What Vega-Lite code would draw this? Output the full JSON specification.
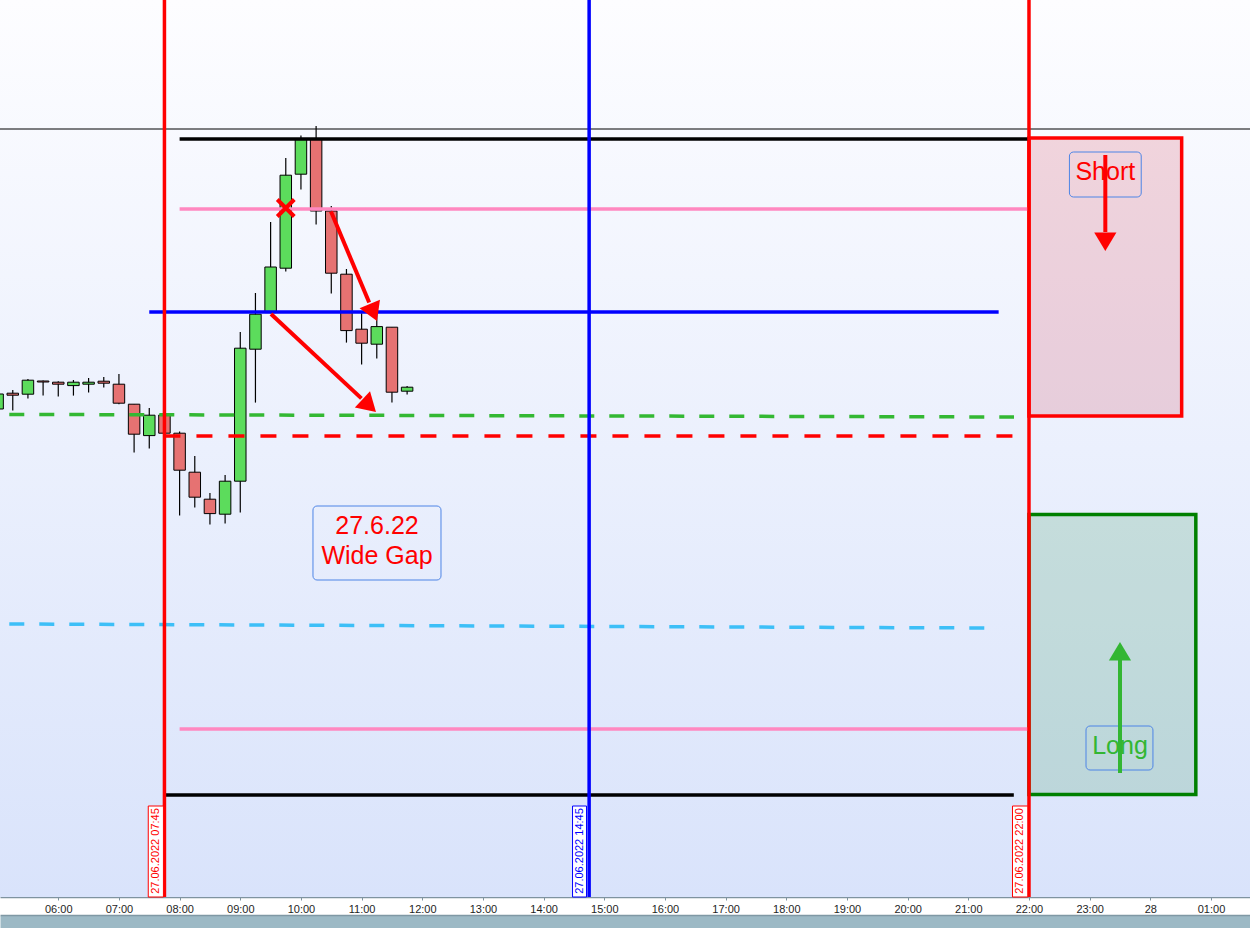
{
  "$schema": "https://vega.github.io/schema/vega-lite/v6.json",
  "width": 1250,
  "height": 897,
  "autosize": {"type": "none"},
  "padding": {"left": 0, "top": 0, "right": 0, "bottom": 31},
  "background": "#ffffff",
  "config": {"view": {"stroke": null, "fill": "#e9eefd"}, "font": "Liberation Sans"},
  "layer": [
    {
      "data": {"values": [{"h0": 4.9, "h1": 25.8, "p0": 13469.5, "p1": 13021}]},
      "mark": {
        "type": "rect", "strokeWidth": 0,
        "fill": {
          "gradient": "linear", "x1": 0, "y1": 0, "x2": 0, "y2": 1,
          "stops": [{"offset": 0, "color": "#fdfdff"}, {"offset": 1, "color": "#d9e3fb"}]
        }
      },
      "encoding": {
        "x": {
          "field": "h0", "type": "quantitative",
          "scale": {"domain": [5.0396, 25.643], "zero": false, "nice": false, "padding": 0},
          "axis": {
            "orient": "bottom", "title": null, "grid": false,
            "values": [5, 6, 7, 8, 9, 10, 11, 12, 13, 14, 15, 16, 17, 18, 19, 20, 21, 22, 23, 24, 25],
            "labelExpr": "datum.value == 24 ? '28' : (datum.value > 24 ? '0' + (datum.value - 24) + ':00' : (datum.value < 10 ? '0' : '') + datum.value + ':00')",
            "labelFlush": false, "labelOverlap": false,
            "labelFont": "Liberation Sans", "labelFontSize": 11, "labelColor": "#1e1e1e", "labelPadding": 3,
            "domainColor": "#7f93a0", "domainWidth": 1.5,
            "tickColor": "#7f93a0", "tickSize": 3, "tickWidth": 1
          }
        },
        "x2": {"field": "h1"},
        "y": {
          "field": "p0", "type": "quantitative",
          "scale": {"domain": [13021, 13469.5], "zero": false, "nice": false, "padding": 0},
          "axis": null
        },
        "y2": {"field": "p1"}
      }
    },
    {
      "data": {"values": [
        {"h": 5.0, "open": 13265, "high": 13274.5, "low": 13263.5, "close": 13272.5},
        {"h": 5.25, "open": 13272.9, "high": 13274.5, "low": 13264.2, "close": 13271.9},
        {"h": 5.5, "open": 13272.4, "high": 13280, "low": 13270.2, "close": 13279.4},
        {"h": 5.75, "open": 13279, "high": 13279.2, "low": 13271.7, "close": 13278.5},
        {"h": 6.0, "open": 13278.4, "high": 13278.9, "low": 13271.2, "close": 13277.4},
        {"h": 6.25, "open": 13276.7, "high": 13279.5, "low": 13271.7, "close": 13278.4},
        {"h": 6.5, "open": 13277.4, "high": 13280.5, "low": 13273.2, "close": 13278.4},
        {"h": 6.75, "open": 13278.9, "high": 13281, "low": 13275.7, "close": 13277.9},
        {"h": 7.0, "open": 13277.4, "high": 13282.5, "low": 13267.4, "close": 13267.9},
        {"h": 7.25, "open": 13267.4, "high": 13267.4, "low": 13243.2, "close": 13252.4},
        {"h": 7.5, "open": 13251.7, "high": 13265.5, "low": 13245.2, "close": 13261.9},
        {"h": 7.75, "open": 13262, "high": 13263.5, "low": 13251.5, "close": 13252.9},
        {"h": 8.0, "open": 13252.9, "high": 13253.7, "low": 13211.7, "close": 13234.4},
        {"h": 8.25, "open": 13233.4, "high": 13241.5, "low": 13215.7, "close": 13220.9},
        {"h": 8.5, "open": 13219.9, "high": 13223, "low": 13207.2, "close": 13212.7},
        {"h": 8.75, "open": 13212.4, "high": 13232, "low": 13207.7, "close": 13228.9},
        {"h": 9.0, "open": 13228.9, "high": 13303.5, "low": 13213.2, "close": 13295.4},
        {"h": 9.25, "open": 13294.9, "high": 13323, "low": 13268.2, "close": 13312.4},
        {"h": 9.5, "open": 13313.2, "high": 13358.5, "low": 13312.9, "close": 13336},
        {"h": 9.75, "open": 13335.4, "high": 13390.5, "low": 13333.7, "close": 13381.9},
        {"h": 10.0, "open": 13382.4, "high": 13401.7, "low": 13374.7, "close": 13399.9},
        {"h": 10.25, "open": 13399.9, "high": 13406.5, "low": 13357.2, "close": 13364},
        {"h": 10.5, "open": 13364, "high": 13366.5, "low": 13322.7, "close": 13332.9},
        {"h": 10.75, "open": 13332.4, "high": 13335, "low": 13298.2, "close": 13304.2},
        {"h": 11.0, "open": 13304.9, "high": 13312.9, "low": 13287.2, "close": 13297.9},
        {"h": 11.25, "open": 13297.4, "high": 13312.5, "low": 13290.2, "close": 13306.2},
        {"h": 11.5, "open": 13305.9, "high": 13305.9, "low": 13268.2, "close": 13273.4},
        {"h": 11.75, "open": 13273.9, "high": 13276.5, "low": 13272.2, "close": 13275.9}
      ]},
      "layer": [
        {
          "mark": {"type": "rule", "color": "#000000", "strokeWidth": 1.2},
          "encoding": {
            "x": {"field": "h", "type": "quantitative", "axis": null},
            "y": {"field": "low", "type": "quantitative", "axis": null},
            "y2": {"field": "high"}
          }
        },
        {
          "transform": [{"filter": "datum.close > datum.open"}],
          "mark": {"type": "bar", "size": 11.5, "stroke": "#000000", "strokeWidth": 1, "fill": "#5cdc5c"},
          "encoding": {
            "x": {"field": "h", "type": "quantitative", "axis": null},
            "y": {"field": "open", "type": "quantitative", "axis": null},
            "y2": {"field": "close"}
          }
        },
        {
          "transform": [{"filter": "datum.close <= datum.open"}],
          "mark": {"type": "bar", "size": 11.5, "stroke": "#000000", "strokeWidth": 1, "fill": "#e67272"},
          "encoding": {
            "x": {"field": "h", "type": "quantitative", "axis": null},
            "y": {"field": "open", "type": "quantitative", "axis": null},
            "y2": {"field": "close"}
          }
        }
      ]
    },
    {
      "data": {"values": [
        {"side": "Short", "h0": 22, "h1": 24.5167, "p0": 13400.5, "p1": 13261.5},
        {"side": "Long", "h0": 22, "h1": 24.75, "p0": 13212.2, "p1": 13072.2}
      ]},
      "mark": {"type": "rect", "strokeWidth": 3.5, "fillOpacity": 0.15},
      "encoding": {
        "x": {"field": "h0", "type": "quantitative", "axis": null},
        "x2": {"field": "h1"},
        "y": {"field": "p0", "type": "quantitative", "axis": null},
        "y2": {"field": "p1"},
        "fill": {"field": "side", "type": "nominal", "legend": null,
          "scale": {"domain": ["Short", "Long"], "range": ["#c8001c", "#008020"]}},
        "stroke": {"field": "side", "type": "nominal", "legend": null,
          "scale": {"domain": ["Short", "Long"], "range": ["#ff0000", "#008000"]}}
      }
    },
    {
      "data": {"values": [
        {"level": "range high", "h0": 8, "h1": 22, "p0": 13400, "p1": 13400},
        {"level": "upper band", "h0": 8, "h1": 22, "p0": 13365, "p1": 13365},
        {"level": "pivot", "h0": 7.5, "h1": 21.5, "p0": 13313.5, "p1": 13313.5},
        {"level": "prior close", "h0": 5.1928, "h1": 21.7533, "p0": 13262.3, "p1": 13261},
        {"level": "opening gap", "h0": 7.75, "h1": 21.75, "p0": 13251.5, "p1": 13251.5},
        {"level": "support", "h0": 5.1928, "h1": 21.275, "p0": 13157.5, "p1": 13155.5},
        {"level": "lower band", "h0": 8, "h1": 22, "p0": 13105, "p1": 13105},
        {"level": "range low", "h0": 7.75, "h1": 21.75, "p0": 13072, "p1": 13072}
      ]},
      "mark": {"type": "rule", "strokeWidth": 3.5},
      "encoding": {
        "x": {
          "field": "h0", "type": "quantitative",
          "axis": {"orient": "bottom", "offset": 25, "title": null, "grid": false, "ticks": false, "labels": false,
            "domainColor": "#9cb9c5", "domainWidth": 13}
        },
        "x2": {"field": "h1"},
        "y": {"field": "p0", "type": "quantitative", "axis": null},
        "y2": {"field": "p1"},
        "color": {"field": "level", "type": "nominal", "legend": null,
          "scale": {
            "domain": ["range high", "upper band", "pivot", "prior close", "opening gap", "support", "lower band", "range low"],
            "range": ["#000000", "#ff88c0", "#0000ff", "#33b833", "#ff0000", "#3dbff7", "#ff88c0", "#000000"]
          }},
        "strokeDash": {"field": "level", "type": "nominal", "legend": null,
          "scale": {
            "domain": ["range high", "upper band", "pivot", "prior close", "opening gap", "support", "lower band", "range low"],
            "range": [[1, 0], [1, 0], [1, 0], [15, 15], [16, 16], [15, 15], [1, 0], [1, 0]]
          }}
      }
    },
    {
      "data": {"values": [{"p": 13405}]},
      "mark": {"type": "rule", "color": "#000000", "strokeWidth": 1},
      "encoding": {"y": {"field": "p", "type": "quantitative", "axis": null}}
    },
    {
      "data": {"values": [
        {"marker": "session open", "h": 7.75},
        {"marker": "midday", "h": 14.75},
        {"marker": "session close", "h": 22}
      ]},
      "mark": {"type": "rule", "strokeWidth": 3.5},
      "encoding": {
        "x": {
          "field": "h", "type": "quantitative",
          "axis": {"orient": "bottom", "offset": 18, "title": null, "grid": false, "ticks": false, "labels": false,
            "domainColor": "#7f98a4", "domainWidth": 1.5}
        },
        "color": {"field": "marker", "type": "nominal", "legend": null,
          "scale": {"domain": ["session open", "midday", "session close"], "range": ["#ff0000", "#0000ff", "#ff0000"]}}
      }
    },
    {
      "data": {"values": [
        {"marker": "session open", "label": "27.06.2022 07:45", "h0": 7.4833, "h1": 7.7333, "hc": 7.6083, "p0": 13066.5, "p1": 13021, "pc": 13044},
        {"marker": "midday", "label": "27.06.2022 14:45", "h0": 14.4767, "h1": 14.7067, "hc": 14.5917, "p0": 13066.5, "p1": 13021, "pc": 13044},
        {"marker": "session close", "label": "27.06.2022 22:00", "h0": 21.7283, "h1": 21.98, "hc": 21.8542, "p0": 13066.5, "p1": 13021, "pc": 13044}
      ]},
      "layer": [
        {
          "mark": {"type": "rect", "fill": "#ffffff", "strokeWidth": 1},
          "encoding": {
            "x": {"field": "h0", "type": "quantitative", "axis": null},
            "x2": {"field": "h1"},
            "y": {"field": "p0", "type": "quantitative", "axis": null},
            "y2": {"field": "p1"},
            "stroke": {"field": "marker", "type": "nominal", "legend": null,
              "scale": {"domain": ["session open", "midday", "session close"], "range": ["#ff0000", "#0000ff", "#ff0000"]}}
          }
        },
        {
          "mark": {"type": "text", "angle": 270, "fontSize": 11, "font": "Liberation Sans", "align": "center", "baseline": "middle"},
          "encoding": {
            "x": {"field": "hc", "type": "quantitative", "axis": null},
            "y": {"field": "pc", "type": "quantitative", "axis": null},
            "text": {"field": "label"},
            "color": {"field": "marker", "type": "nominal", "legend": null,
              "scale": {"domain": ["session open", "midday", "session close"], "range": ["#ff0000", "#0000ff", "#ff0000"]}}
          }
        }
      ]
    },
    {
      "data": {"values": [
        {"note": "short", "h0": 22.6667, "h1": 23.85, "p0": 13393.5, "p1": 13371},
        {"note": "long", "h0": 22.94, "h1": 24.0433, "p0": 13106.5, "p1": 13084.5},
        {"note": "gap", "h0": 10.1983, "h1": 12.3083, "p0": 13216.5, "p1": 13179.5}
      ]},
      "mark": {"type": "rect", "filled": false, "stroke": "#4d84e6", "strokeWidth": 1, "cornerRadius": 4},
      "encoding": {
        "x": {"field": "h0", "type": "quantitative", "axis": null},
        "x2": {"field": "h1"},
        "y": {"field": "p0", "type": "quantitative", "axis": null},
        "y2": {"field": "p1"}
      }
    },
    {
      "data": {"values": [
        {"tone": "short", "text": "Short", "h": 23.2583, "p": 13383.5},
        {"tone": "long", "text": "Long", "h": 23.5, "p": 13096.5},
        {"tone": "short", "text": "27.6.22", "h": 11.2533, "p": 13206.5},
        {"tone": "short", "text": "Wide Gap", "h": 11.2533, "p": 13191.5}
      ]},
      "mark": {"type": "text", "fontSize": 25, "font": "Liberation Sans", "align": "center", "baseline": "middle"},
      "encoding": {
        "x": {"field": "h", "type": "quantitative", "axis": null},
        "y": {"field": "p", "type": "quantitative", "axis": null},
        "text": {"field": "text"},
        "color": {"field": "tone", "type": "nominal", "legend": null,
          "scale": {"domain": ["short", "long"], "range": ["#ff0000", "#33b633"]}}
      }
    },
    {
      "data": {"values": [{"h": 9.75, "p": 13365.5}]},
      "mark": {"type": "point", "shape": "M-1,-1L1,1M1,-1L-1,1", "filled": false, "size": 289, "strokeWidth": 4, "color": "#ff0000", "opacity": 1},
      "encoding": {
        "x": {"field": "h", "type": "quantitative", "axis": null},
        "y": {"field": "p", "type": "quantitative", "axis": null}
      }
    },
    {
      "data": {"values": [
        {"bias": "short", "h0": 23.2583, "h1": 23.2583, "p0": 13392, "p1": 13353.5},
        {"bias": "long", "h0": 23.5, "h1": 23.5, "p0": 13083, "p1": 13140},
        {"bias": "short", "h0": 10.495, "h1": 11.125, "p0": 13363.7, "p1": 13318.2},
        {"bias": "short", "h0": 9.5067, "h1": 10.9967, "p0": 13312.5, "p1": 13270.3}
      ]},
      "mark": {"type": "rule", "strokeWidth": 4},
      "encoding": {
        "x": {"field": "h0", "type": "quantitative", "axis": null},
        "x2": {"field": "h1"},
        "y": {"field": "p0", "type": "quantitative", "axis": null},
        "y2": {"field": "p1"},
        "color": {"field": "bias", "type": "nominal", "legend": null,
          "scale": {"domain": ["short", "long"], "range": ["#ff0000", "#33b633"]}}
      }
    },
    {
      "data": {"values": [
        {"bias": "short", "h": 23.2583, "p": 13344, "heading": 0},
        {"bias": "long", "h": 23.5, "p": 13148.5, "heading": 180},
        {"bias": "short", "h": 11.2533, "p": 13309, "heading": 337},
        {"bias": "short", "h": 11.2367, "p": 13263.5, "heading": 313}
      ]},
      "mark": {"type": "point", "shape": "M0,0L-0.6,-1L0.6,-1Z", "filled": true, "size": 1369, "opacity": 1, "strokeWidth": 0},
      "encoding": {
        "x": {"field": "h", "type": "quantitative", "axis": null},
        "y": {"field": "p", "type": "quantitative", "axis": null},
        "angle": {"field": "heading", "type": "quantitative", "scale": {"domain": [0, 360], "range": [0, 360]}},
        "color": {"field": "bias", "type": "nominal", "legend": null,
          "scale": {"domain": ["short", "long"], "range": ["#ff0000", "#33b633"]}}
      }
    }
  ],
  "resolve": {
    "scale": {"color": "independent", "fill": "independent", "stroke": "independent", "strokeDash": "independent"},
    "axis": {"x": "independent"}
  }
}
